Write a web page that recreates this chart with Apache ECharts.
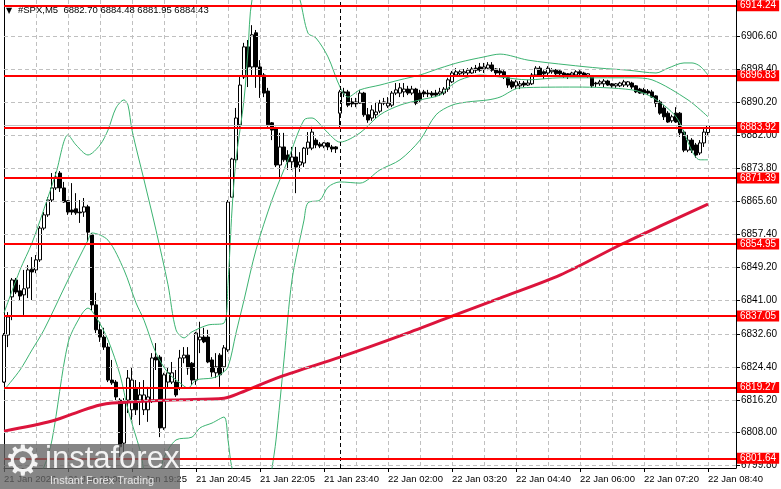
<!DOCTYPE html>
<html><head><meta charset="utf-8">
<script src="https://cdn.jsdelivr.net/npm/echarts@6/dist/echarts.min.js"></script>
<style>html,body{margin:0;padding:0;background:#fff}#c{width:781px;height:489px}</style>
</head><body><div id="c"></div>
<script>
// ---- data (prices) ----
const symbolTitle = '#SPX,M5  6882.70 6884.48 6881.95 6884.43';
// [open, high, low, close]
const candles = [
[6820.6,6832.8,6820.4,6832.3],[6832.3,6838.0,6829.3,6836.8],[6841.8,6846.5,6836.0,6846.0],[6846.0,6846.5,6842.5,6843.0],
[6843.3,6844.8,6841.0,6842.0],[6842.3,6848.5,6837.3,6843.8],[6844.0,6849.7,6841.5,6848.5],[6848.7,6851.7,6841.0,6848.0],
[6848.5,6852.2,6847.7,6851.0],[6851.0,6859.4,6850.5,6858.9],[6858.9,6862.9,6858.4,6862.2],[6862.2,6866.6,6861.7,6865.9],
[6865.9,6872.6,6865.4,6868.9],[6868.9,6872.9,6868.4,6871.6],[6872.6,6873.1,6867.9,6868.9],[6868.9,6870.4,6865.2,6865.4],
[6865.7,6865.9,6862.2,6862.9],[6863.4,6870.1,6862.2,6862.9],[6863.7,6867.6,6862.2,6862.7],[6862.9,6865.9,6860.2,6862.7],
[6862.9,6866.4,6861.7,6864.2],[6864.2,6864.7,6855.5,6857.9],[6857.2,6857.7,6838.5,6839.8],[6839.8,6842.8,6832.8,6833.6],
[6833.6,6835.6,6830.6,6831.8],[6831.8,6834.1,6828.6,6829.3],[6829.3,6830.3,6820.6,6821.1],[6821.1,6826.1,6819.9,6820.4],
[6820.6,6821.1,6816.1,6816.9],[6816.1,6816.6,6802.0,6804.5],[6805.4,6816.6,6802.0,6815.4],[6816.1,6823.6,6812.9,6821.6],
[6813.7,6824.1,6811.2,6821.1],[6819.1,6821.1,6812.4,6813.7],[6816.1,6820.6,6809.9,6817.4],[6813.7,6821.1,6812.4,6817.4],
[6813.7,6819.4,6810.7,6816.9],[6816.1,6827.8,6815.4,6826.6],[6826.8,6830.3,6823.6,6826.1],[6826.8,6827.3,6806.9,6809.2],
[6809.2,6822.9,6808.7,6822.4],[6820.6,6824.1,6819.1,6822.9],[6820.6,6825.6,6820.1,6822.9],[6820.6,6823.6,6816.9,6817.4],
[6819.1,6828.6,6818.6,6826.6],[6826.6,6829.3,6825.3,6827.3],[6827.3,6829.3,6822.4,6824.1],[6825.3,6825.6,6819.9,6821.1],
[6821.1,6833.1,6819.9,6832.8],[6831.1,6835.6,6827.8,6831.8],[6831.8,6834.1,6830.3,6830.6],[6831.8,6833.6,6825.3,6825.6],
[6826.1,6826.8,6821.9,6823.1],[6822.9,6827.8,6821.6,6824.4],[6827.3,6827.8,6819.4,6822.4],[6824.4,6829.8,6823.1,6829.1],
[6828.6,6865.9,6828.1,6865.4],[6866.6,6876.4,6866.6,6876.1],[6875.9,6888.8,6875.1,6886.3],[6884.6,6896.5,6884.1,6894.5],
[6896.5,6905.0,6896.0,6904.0],[6904.0,6905.7,6894.0,6899.0],[6899.0,6909.4,6896.5,6907.0],[6907.5,6908.2,6893.8,6899.0],
[6899.0,6900.7,6891.3,6897.0],[6897.0,6897.5,6891.5,6892.5],[6893.0,6893.8,6884.1,6884.6],[6885.1,6885.3,6880.8,6883.3],
[6883.8,6884.1,6874.1,6874.6],[6874.6,6882.6,6871.6,6879.1],[6879.1,6882.6,6875.4,6875.9],[6877.1,6878.3,6873.4,6875.4],
[6875.4,6879.1,6873.4,6876.6],[6876.6,6879.1,6867.6,6874.1],[6874.6,6877.8,6872.9,6875.4],[6875.1,6879.1,6874.1,6878.8],
[6878.8,6882.8,6877.1,6880.3],[6878.8,6884.1,6878.3,6882.8],[6880.8,6881.3,6878.8,6879.6],[6879.8,6880.3,6878.8,6879.3],
[6879.3,6880.3,6878.8,6880.1],[6880.1,6880.3,6878.3,6879.1],[6879.1,6879.6,6877.8,6878.6],[6879.1,6879.3,6877.6,6878.6],
[6887.5,6893.3,6883.8,6892.8],[6892.8,6893.8,6891.5,6892.5],[6892.8,6893.3,6889.0,6889.5],[6890.3,6891.3,6889.0,6889.8],
[6890.3,6891.3,6889.0,6889.8],[6890.0,6893.3,6889.8,6892.5],[6892.5,6892.8,6886.6,6887.1],[6887.1,6888.8,6885.1,6885.8],
[6886.3,6889.5,6885.6,6888.3],[6887.1,6890.3,6886.3,6887.8],[6888.0,6890.8,6887.5,6890.0],[6890.3,6891.3,6889.5,6890.0],
[6889.3,6891.5,6888.8,6890.0],[6889.5,6893.0,6889.0,6892.5],[6892.5,6895.0,6892.0,6893.3],[6892.5,6895.0,6891.5,6893.8],
[6892.8,6895.0,6891.5,6893.5],[6893.5,6894.3,6892.0,6892.5],[6892.5,6894.3,6892.0,6893.5],[6893.5,6893.8,6889.5,6890.0],
[6892.5,6893.3,6890.3,6890.8],[6892.8,6893.3,6891.5,6892.3],[6892.5,6893.3,6891.5,6892.3],[6892.5,6893.0,6891.5,6892.0],
[6892.5,6893.3,6891.5,6892.0],[6892.3,6893.8,6891.8,6892.8],[6892.5,6894.0,6892.0,6893.5],[6893.5,6896.3,6892.8,6895.8],
[6895.3,6898.0,6895.0,6897.5],[6897.0,6898.7,6896.5,6897.8],[6897.3,6898.2,6896.5,6897.8],[6897.5,6898.5,6897.0,6897.8],
[6897.5,6898.7,6897.0,6898.2],[6897.5,6899.0,6897.3,6898.5],[6898.7,6899.5,6897.5,6898.2],[6899.0,6900.0,6897.8,6898.2],
[6898.5,6900.0,6897.5,6899.0],[6898.7,6900.2,6898.2,6899.5],[6899.5,6900.2,6897.8,6898.2],[6898.5,6898.7,6897.0,6897.5],
[6898.0,6898.7,6897.0,6897.5],[6897.8,6898.2,6896.0,6896.5],[6896.3,6896.8,6893.8,6894.5],[6895.3,6895.8,6893.5,6894.0],
[6894.3,6895.8,6893.5,6895.3],[6894.3,6895.5,6893.5,6894.8],[6895.0,6895.5,6894.0,6894.5],[6894.5,6895.8,6894.3,6895.0],
[6894.8,6897.5,6894.5,6897.0],[6897.0,6899.2,6896.5,6898.7],[6898.7,6899.2,6896.5,6897.0],[6897.8,6898.2,6896.0,6897.3],
[6897.5,6899.2,6897.0,6898.7],[6897.8,6898.7,6897.3,6898.2],[6898.2,6898.5,6897.0,6897.3],[6898.0,6898.2,6896.5,6897.3],
[6897.5,6897.8,6896.3,6897.0],[6897.3,6897.5,6896.0,6897.0],[6897.0,6897.8,6896.5,6897.5],[6897.0,6898.2,6896.5,6897.8],
[6897.8,6898.2,6896.5,6897.3],[6897.5,6897.8,6896.5,6897.0],[6896.8,6897.5,6896.3,6897.3],[6896.8,6897.0,6893.8,6894.3],
[6895.0,6895.3,6894.0,6894.8],[6894.8,6895.8,6894.3,6895.3],[6894.8,6896.0,6894.0,6895.5],[6895.5,6895.8,6894.3,6894.5],
[6894.8,6895.0,6893.8,6894.3],[6894.3,6895.0,6893.8,6894.8],[6894.3,6895.3,6894.0,6895.0],[6894.5,6895.8,6894.0,6895.3],
[6894.5,6895.5,6894.0,6895.3],[6895.0,6895.3,6893.5,6894.0],[6894.3,6894.5,6892.5,6892.8],[6893.5,6893.8,6892.3,6892.5],
[6893.3,6893.8,6892.0,6892.5],[6893.0,6893.5,6892.0,6892.5],[6892.8,6893.3,6891.3,6891.5],[6891.8,6892.0,6889.0,6890.0],
[6890.3,6890.8,6887.1,6887.5],[6888.8,6889.5,6885.8,6886.6],[6887.5,6888.0,6885.1,6885.3],[6885.6,6887.1,6885.1,6886.6],
[6887.5,6889.0,6885.1,6885.3],[6887.5,6887.8,6881.6,6882.6],[6882.8,6883.3,6877.8,6878.3],[6878.3,6882.1,6877.8,6880.8],
[6880.8,6881.3,6877.6,6878.3],[6879.6,6880.1,6876.4,6877.1],[6877.6,6880.8,6877.1,6880.1],[6880.1,6883.8,6879.1,6882.8],
[6882.70,6884.48,6881.95,6884.43]
];
const xTickLabels = ['21 Jan 2026','21 Jan 18:05','21 Jan 19:25','21 Jan 20:45','21 Jan 22:05','21 Jan 23:40',
  '22 Jan 02:00','22 Jan 03:20','22 Jan 04:40','22 Jan 06:00','22 Jan 07:20','22 Jan 08:40'];
const barsPerLabel = 16;
const barsPerGrid = 8;
const totalSlots = 184;            // bars + right-side chart shift
const separatorIndex = 84;         // 22 Jan 00:00 period separator
const yTicks = [6906.60,6898.40,6890.20,6882.00,6873.80,6865.60,6857.40,6849.20,6841.00,6832.60,6824.40,6816.20,6808.00,6799.80];
const levels = [6914.24,6896.83,6883.92,6871.39,6854.95,6837.05,6819.27,6801.64];
const bidPrice = 6884.43;
const yMin = 6799.22, yMax = 6915.66;
// moving average [barIndex, value]
const maLine = [[0,6808.4],[12,6810.9],[20,6813.7],[24,6814.9],[27,6815.4],[36,6815.9],[44,6816.2],[55,6816.6],
  [59,6817.9],[69,6821.9],[84,6826.8],[99,6832.1],[112,6837.0],[124,6841.5],[139,6847.2],[154,6854.7],[164,6859.4],[176,6864.9]];
// Bollinger bands [barIndex, value]
const bbUpper = [[0,6837.8],[4,6848.5],[7,6855.2],[11,6866.6],[13,6872.6],[16,6882.1],[18,6879.6],[21,6877.1],[24,6879.6],
  [26,6883.3],[28,6888.8],[30,6890.8],[31,6889.5],[32,6883.3],[35,6870.9],[38,6858.4],[41,6844.8],[43,6833.6],[45,6831.6],
  [47,6833.1],[51,6834.8],[55,6835.3],[56,6845.2],[57,6863.4],[58,6875.9],[60,6890.8],[61,6903.2],[62,6915.7],[66,6930],
  [70,6928],[74,6915.7],[76,6907.4],[78,6906.2],[81,6901.5],[84,6894.0],[86,6891.5],[89,6893.3],[94,6894.5],[99,6895.8],
  [104,6897.0],[109,6898.7],[114,6900.2],[120,6901.5],[124,6902.2],[131,6900.7],[141,6899.5],[149,6898.7],[156,6898.2],
  [163,6897.5],[166,6898.7],[170,6900.0],[172,6900.0],[174,6899.2],[176,6897.0]];
const bbMiddle = [[0,6818.6],[4,6823.6],[7,6828.6],[10,6833.6],[16,6846.0],[21,6855.9],[22,6857.7],[26,6855.9],[30,6848.5],
  [33,6840.3],[35,6836.0],[38,6827.8],[41,6822.9],[44,6820.4],[46,6819.1],[48,6821.1],[52,6821.6],[54,6822.4],[56,6824.4],
  [58,6832.8],[60,6841.0],[63,6853.5],[67,6865.9],[71,6875.9],[75,6885.8],[77,6886.3],[78,6885.8],[81,6882.6],[84,6880.3],
  [89,6882.6],[94,6887.1],[99,6889.5],[104,6890.8],[109,6892.0],[111,6893.8],[114,6895.8],[119,6897.0],[124,6896.5],
  [131,6895.8],[139,6896.3],[149,6896.3],[157,6896.3],[162,6895.8],[171,6890.8],[176,6886.6]];
const bbLower = [[0,6796],[8,6797],[10,6799.5],[12,6806.2],[16,6830.3],[19,6836.8],[21,6839.0],[23,6836.8],[26,6831.1],
  [29,6822.4],[31,6813.7],[34,6803.7],[36,6796.2],[39,6798.7],[40,6801.9],[43,6806.2],[47,6806.9],[49,6809.2],[52,6810.4],
  [55,6811.9],[56,6806.2],[57,6799.2],[60,6790],[65,6788],[67,6799.2],[68,6806.2],[70,6826.1],[72,6846.0],[75,6860.9],
  [76,6865.2],[79,6865.9],[81,6869.1],[84,6870.4],[89,6870.1],[94,6873.4],[99,6875.9],[104,6880.8],[108,6887.1],[112,6889.5],
  [116,6890.3],[121,6890.8],[124,6891.5],[129,6893.8],[143,6894.0],[157,6893.3],[162,6891.5],[168,6886.6],[174,6875.9],[176,6875.9]];

// ---- chart ----
const slots = Array.from({length: totalSlots}, (_, i) => String(i));
const ohlcForEcharts = candles.map(([o, h, l, c]) => [o, c, l, h]);
const FONT = 'Liberation Sans, Arial, sans-serif';
const FS = 9.5;
const chart = echarts.init(document.getElementById('c'), null, {renderer: 'canvas'});
const bandStyle = {color: '#3cb371', width: 1};
chart.setOption({
  animation: false,
  backgroundColor: '#ffffff',
  grid: {left: 4, right: 45, top: 0, bottom: 21, containLabel: false},
  xAxis: {
    type: 'category', data: slots, boundaryGap: false,
    axisLine: {show: true, onZero: false, lineStyle: {color: '#000', width: 1}},
    axisTick: {show: true, length: 4, interval: (i) => i % barsPerLabel === 0 && i <= 176, lineStyle: {color: '#000'}},
    axisLabel: {
      interval: (i) => i % barsPerLabel === 0 && i <= 176,
      formatter: (v, i) => xTickLabels[i / barsPerLabel] || '',
      align: 'left', margin: 6, color: '#000', fontSize: FS, fontFamily: FONT
    },
    splitLine: {show: true, interval: (i) => i % barsPerGrid === 0, lineStyle: {color: '#c0c0c0', type: [4, 3], width: 1}}
  },
  yAxis: [{
    type: 'value', position: 'right', min: yMin, max: yMax, scale: true,
    axisLine: {show: true, lineStyle: {color: '#000', width: 1}},
    axisTick: {show: true, length: 4, customValues: yTicks, lineStyle: {color: '#000'}},
    axisLabel: {customValues: yTicks, formatter: (v) => Number(v).toFixed(2), color: '#000', fontSize: FS + 0.5, margin: 5, fontFamily: FONT},
    splitLine: {show: false}
  }, {
    type: 'value', position: 'left', min: yMin, max: yMax, scale: true,
    axisLine: {show: true, lineStyle: {color: '#000', width: 1}},
    axisTick: {show: false}, axisLabel: {show: false}, splitLine: {show: false}
  }],
  graphic: [
    {type: 'text', left: 6, top: 7, z: 100, style: {text: '\u25BC', fontSize: 8, fill: '#000', fontFamily: 'DejaVu Sans'}},
    {type: 'text', left: 18, top: 5, z: 100, style: {text: symbolTitle, fontSize: FS, fill: '#000', fontFamily: FONT}},
    {type: 'rect', left: 0, top: 444, z: 100, shape: {width: 180, height: 45}, style: {fill: 'rgba(100,100,100,0.78)'}},
    {type: 'text', left: 4, top: 443, z: 101, style: {text: '\u2699', fontSize: 42, fill: '#f4f4f4', fontFamily: 'DejaVu Sans'}},
    {type: 'text', left: 45, top: 444, z: 101, style: {text: 'instaforex', fontSize: 31, fill: '#f2f2f2', fontFamily: FONT}},
    {type: 'text', left: 50, top: 475, z: 101, style: {text: 'Instant Forex Trading', fontSize: 11, fill: '#e6e6e6', fontFamily: FONT}}
  ],
  series: [
    { // grid + separator
      type: 'line', data: [], z: 1, silent: true,
      markLine: {
        silent: true, symbol: 'none', label: {show: false}, animation: false,
        data: yTicks.map(v => ({yAxis: v, lineStyle: {color: '#c0c0c0', type: [4, 3], width: 1}}))
          .concat([{xAxis: String(separatorIndex), lineStyle: {color: '#000', type: [4, 3], width: 1}},
                   {yAxis: bidPrice, lineStyle: {color: '#c0c0c0', type: 'solid', width: 1}}])
      }
    },
    {
      type: 'candlestick', data: ohlcForEcharts, z: 2, barWidth: 3,
      itemStyle: {color: '#ffffff', color0: '#000000', borderColor: '#000000', borderColor0: '#000000', borderWidth: 1}
    },
    {type: 'line', data: bbUpper, z: 3, symbol: 'none', smooth: 0.3, lineStyle: bandStyle, silent: true},
    {type: 'line', data: bbMiddle, z: 3, symbol: 'none', smooth: 0.3, lineStyle: bandStyle, silent: true},
    {type: 'line', data: bbLower, z: 3, symbol: 'none', smooth: 0.3, lineStyle: bandStyle, silent: true},
    {type: 'line', data: maLine, z: 4, symbol: 'none', smooth: 0.3, lineStyle: {color: '#dc143c', width: 3}, silent: true},
    {
      type: 'line', data: [], z: 5, silent: true,
      markLine: {
        silent: true, symbol: 'none', animation: false,
        lineStyle: {color: '#ff0000', type: 'solid', width: 2},
        label: {show: true, position: 'end', distance: 1, formatter: (p) => Number(p.value).toFixed(2),
          color: '#ffffff', backgroundColor: '#ff0000', fontSize: FS + 0.5, fontFamily: FONT, lineHeight: 11, padding: [0, 3, 0, 3]},
        data: levels.map(v => ({yAxis: v}))
      }
    }
  ]
});
</script></body></html>
